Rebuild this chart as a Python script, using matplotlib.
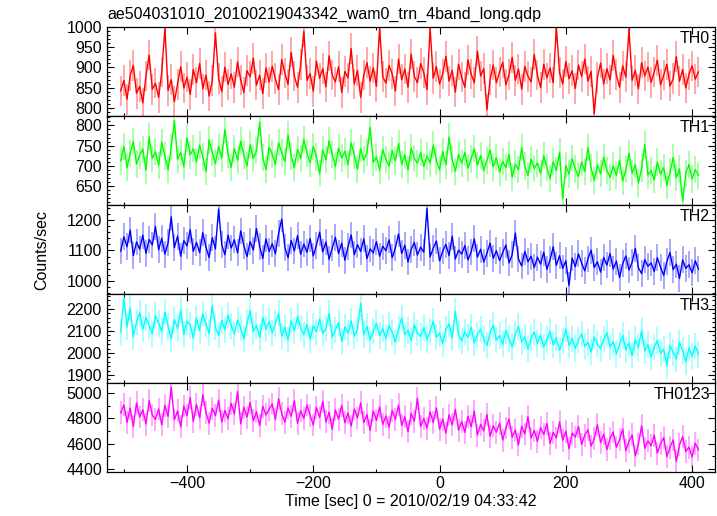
#!/usr/bin/env python3

"""
plot.py

Light curves of the four WAM energy bands (TH0..TH3) and their sum,
stacked in one column with a shared time axis.
"""

import numpy as np # For arrays.
import matplotlib
matplotlib.use("Agg") # No display available.
import matplotlib.pyplot as plt # For plotting.
from matplotlib.ticker import MultipleLocator # For tick spacing.

# --- Data (5 s bins) ---

# Time of the first bin and bin width [sec].
t_start = -505
t_bin = 5

th0 = [
    842, 868, 821, 880, 905, 836, 853, 812, 879, 931, 846, 861,
    826, 889, 998, 843, 870, 815, 858, 902, 849, 876, 833, 895,
    862, 910, 847, 881, 829, 867, 986, 873, 840, 901, 858, 884,
    851, 914, 869, 838, 892, 877, 923, 856, 881, 835, 899, 864,
    903, 872, 845, 920, 886, 858, 938, 879, 851, 907, 990, 868,
    885, 841, 916, 873, 897, 852, 929, 881, 864, 902, 838, 890,
    874, 947, 859, 893, 826, 881, 912, 866, 899, 853, 1000, 877,
    861, 905, 884, 842, 921, 870, 896, 851, 933, 878, 862, 910,
    887, 845, 998, 873, 902, 859, 884, 928, 866, 893, 839, 908,
    876, 851, 919, 884, 862, 941, 879, 897, 795, 870, 906, 862,
    889, 913, 857, 882, 925, 868, 896, 846, 903, 878, 864, 932,
    881, 850, 908, 874, 899, 862, 1000, 887, 859, 915, 872, 892,
    848, 906, 878, 921, 866, 890, 785, 875, 911, 859, 897, 869,
    930, 882, 851, 904, 876, 995, 868, 893, 847, 912, 879, 901,
    863, 889, 918, 857, 881, 908, 854, 872, 927, 866, 895, 849,
    883, 904, 871, 889,
]

th1 = [
    712, 748, 695, 731, 760, 704, 726, 741, 689, 772, 718, 735,
    701, 758, 724, 690, 745, 812, 716, 733, 698, 769, 727, 742,
    709, 751, 722, 686, 764, 733, 705, 748, 719, 790, 728, 696,
    743, 714, 761, 727, 699, 752, 718, 737, 808, 721, 690, 746,
    729, 703, 757, 732, 710, 776, 724, 695, 741, 718, 765, 731,
    707, 748, 722, 680, 739, 715, 762, 728, 698, 744, 719, 736,
    703, 757, 725, 691, 742, 714, 733, 795, 708, 722, 689, 740,
    716, 699, 738, 712, 755, 703, 727, 690, 744, 718, 706, 733,
    698, 724, 707, 751, 712, 690, 736, 702, 771, 715, 686, 728,
    706, 733, 694, 717, 742, 701, 725, 688, 713, 739, 697, 720,
    684, 711, 695, 728, 672, 704, 690, 745, 699, 676, 716, 693,
    707, 681, 725, 695, 668, 710, 688, 734, 617, 700, 679, 718,
    692, 673, 709, 686, 745, 694, 664, 702, 680, 721, 688, 671,
    699, 676, 714, 662, 690, 731, 681, 703, 657, 694, 752, 677,
    688, 665, 709, 679, 696, 651, 684, 720, 670, 692, 612, 681,
    703, 667, 690, 676,
]

th2 = [
    1098, 1145, 1112, 1167, 1083, 1128, 1104, 1150, 1091, 1136, 1118, 1179,
    1102, 1140, 1088, 1125, 1210, 1109, 1147, 1081, 1132, 1115, 1168, 1097,
    1126, 1093, 1158, 1111, 1077, 1142, 1105, 1236, 1119, 1086, 1150, 1108,
    1135, 1092, 1164, 1116, 1080, 1129, 1101, 1172, 1113, 1074, 1138, 1097,
    1122, 1089, 1156, 1203, 1110, 1076, 1133, 1098, 1149, 1087, 1121, 1094,
    1139, 1082, 1117, 1160, 1095, 1128, 1071, 1108, 1143, 1090, 1124, 1068,
    1112, 1151, 1086, 1119, 1097, 1138, 1073, 1105, 1092, 1129, 1081, 1114,
    1099, 1135, 1076, 1108, 1154, 1090, 1117, 1062, 1103, 1126, 1085, 1111,
    1094, 1238, 1079, 1107, 1131, 1066, 1098, 1120, 1083, 1147, 1072, 1101,
    1088, 1116, 1069, 1095, 1138, 1078, 1104, 1062, 1091, 1124, 1074, 1099,
    1067, 1093, 1118, 1059, 1086, 1157, 1072, 1049, 1097, 1063, 1081, 1044,
    1078, 1055, 1094, 1038, 1069, 1112, 1051, 1083, 1041, 1066, 985, 1075,
    1047, 1089, 1058, 1033, 1072, 1101, 1044, 1063, 1029, 1077, 1052, 1090,
    1039, 1065, 1011, 1056, 1082, 1036, 1061, 1107, 1043, 1024, 1070, 1048,
    1059, 1031, 1076, 1045, 1018, 1064, 1093, 1037, 1055, 1008, 1069, 1041,
    1053, 1027, 1066, 1039,
]

th3 = [
    2096, 2250, 2118, 2205, 2074, 2141, 2183, 2109, 2162, 2126, 2088, 2170,
    2135, 2098, 2187, 2121, 2065, 2153, 2112, 2196, 2084, 2144, 2127, 2068,
    2159, 2103, 2178, 2132, 2090, 2215, 2117, 2081, 2148, 2106, 2172, 2124,
    2087, 2151, 2113, 2064, 2139, 2192, 2098, 2126, 2071, 2162, 2109, 2143,
    2092, 2134, 2180, 2077, 2118, 2058, 2146, 2101, 2167, 2115, 2083, 2130,
    2062, 2124, 2097, 2155, 2089, 2113, 2180, 2072, 2106, 2139, 2053, 2118,
    2091, 2147, 2076, 2108, 2226, 2084, 2121, 2060, 2099, 2136, 2079, 2112,
    2067, 2125, 2094, 2049, 2110, 2160, 2083, 2103, 2057, 2128, 2090, 2075,
    2116, 2061, 2098, 2145, 2072, 2089, 2042, 2107, 2133, 2068, 2190, 2085,
    2054, 2097, 2071, 2118, 2046, 2082, 2109, 2063, 2035, 2091, 2127, 2058,
    2079, 2040, 2102, 2066, 2029, 2087, 2120, 2051, 2074, 2018, 2069, 2095,
    2043, 2081, 2026, 2062, 2098, 2037, 2070, 2012, 2055, 2110, 2034, 2066,
    2021, 2059, 2087, 2030, 2048, 2004, 2073, 2041, 2019, 2064, 2092, 2027,
    2052, 1996, 2037, 2080, 2015, 2046, 1988, 2061, 2025, 2103, 2008, 2039,
    1982, 2028, 2057, 1999, 2017, 1941, 2034, 2003, 1973, 2049, 2011, 1960,
    2022, 1986, 2031, 1994,
]

th0123 = [
    4842, 4905, 4768, 4880, 4735, 4921, 4810, 4867, 4754, 4938, 4826, 4791,
    4873, 4749, 4902, 4815, 5045, 4788, 4858, 4732, 4896, 4821, 4962, 4775,
    4910, 4803, 4986, 4846, 4762, 4879, 4820, 4943, 4771, 4862, 4795, 4918,
    4833, 5010, 4756, 4887, 4808, 4925, 4779, 4851, 4742, 4894, 4827, 4869,
    4912, 4790, 4953, 4836, 4768, 4881, 4815, 4937, 4760, 4859, 4798, 4904,
    4823, 4747, 4885, 4806, 4934, 4771, 4848, 4712, 4866, 4793, 4901, 4764,
    4842, 4739, 4873, 4802, 4921, 4766, 4829, 4705, 4858, 4783, 4890, 4752,
    4817, 4728, 4862, 4790, 4905, 4743, 4811, 4694, 4839, 4776, 4958, 4735,
    4798, 4722, 4851, 4765, 4882, 4713, 4793, 4684, 4826, 4748, 4870, 4706,
    4774, 4689, 4815, 4733, 4856, 4667, 4752, 4701, 4829, 4658, 4741, 4690,
    4762, 4628, 4723, 4795, 4651, 4708, 4590, 4737, 4676, 4812, 4643, 4705,
    4618, 4726, 4671, 4759, 4602, 4689, 4645, 4772, 4627, 4698, 4560, 4683,
    4652, 4735, 4594, 4667, 4710, 4581, 4639, 4749, 4608, 4676, 4553, 4641,
    4692, 4572, 4630, 4715, 4546, 4618, 4669, 4503, 4597, 4740, 4564, 4622,
    4584, 4667, 4526, 4601, 4648, 4498, 4573, 4629, 4461, 4590, 4655, 4538,
    4572, 4495, 4604, 4550,
]

# Panel names, typical 1-sigma error per panel.
names = ["TH0", "TH1", "TH2", "TH3", "TH0123"]
errors = [38, 34, 44, 60, 90]

# --- Style per panel ---
series = [th0, th1, th2, th3, th0123]
colors = ["#ff0000", "#00ff00", "#0000ff", "#00ffff", "#ff00ff"]
ylims = [(780, 1001), (603, 824), (958, 1250), (1865, 2270), (4380, 5080)]
majors = [50, 50, 100, 100, 200]
minors = [10, 10, 20, 20, 100]

plt.rcParams["font.family"] = ["Liberation Sans", "DejaVu Sans"]
plt.rcParams["font.size"] = 11.5

fig, axes = plt.subplots(5, 1, sharex=True, figsize=(7.17, 5.16), dpi=100)
fig.subplots_adjust(left=0.149, right=0.997, top=0.948, bottom=0.086, hspace=0)

for ax, y, c, name, err, ylim, maj, mnr in zip(axes, series, colors, names, errors,
                                               ylims, majors, minors):
    t = t_start + t_bin * np.arange(len(y)) # Bin centres.
    ax.errorbar(t, y, yerr=err, fmt="none", ecolor=c, elinewidth=1.2, alpha=0.4)
    ax.plot(t, y, color=c, lw=1.0)

    ax.set_ylim(*ylim)
    ax.yaxis.set_major_locator(MultipleLocator(maj))
    ax.yaxis.set_minor_locator(MultipleLocator(mnr))
    ax.text(0.992, 0.87, name, transform=ax.transAxes, ha="right", va="center")

    ax.tick_params(which="both", direction="in", top=True, right=True, width=0.8)
    ax.tick_params(which="major", length=5)
    ax.tick_params(which="minor", length=2.5)
    for s in ax.spines.values():
        s.set_linewidth(0.9)

axes[-1].set_xlim(-527, 436)
axes[-1].xaxis.set_major_locator(MultipleLocator(200))
axes[-1].xaxis.set_minor_locator(MultipleLocator(100))
axes[-1].set_xlabel("Time [sec] 0 = 2010/02/19 04:33:42", labelpad=2)

# Title and shared y label.
fig.text(0.150, 0.972, "ae504031010_20100219043342_wam0_trn_4band_long.qdp",
         ha="left", va="center")
fig.text(0.058, 0.516, "Counts/sec", rotation=90, ha="center", va="center")

fig.savefig("out.png", dpi=100)
